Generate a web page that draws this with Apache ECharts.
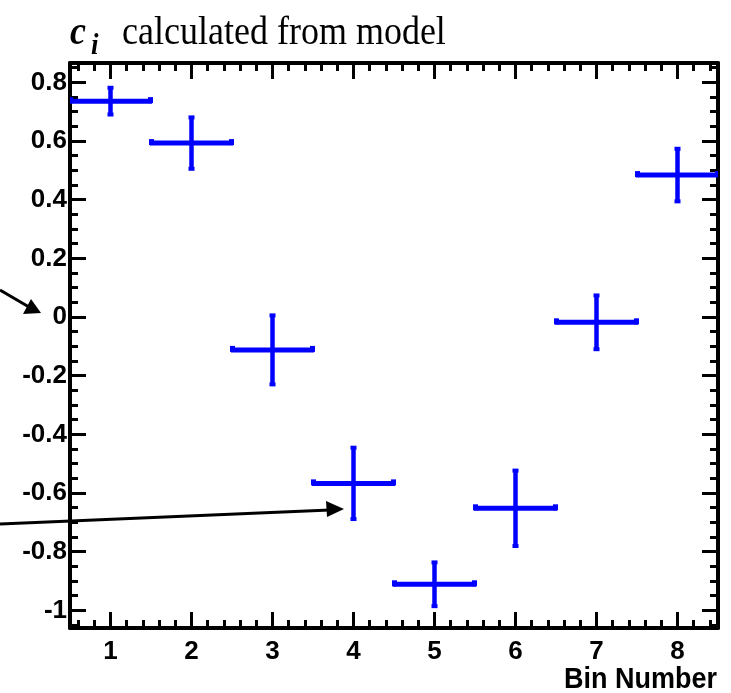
<!DOCTYPE html>
<html>
<head>
<meta charset="utf-8">
<script src="https://cdn.jsdelivr.net/npm/echarts@6/dist/echarts.min.js"></script>
<style>
html,body{margin:0;padding:0;background:#fff;}
#chart{width:731px;height:693px;}
</style>
</head>
<body>
<div id="chart"></div>
<script>
// ---- data ----
const bins = [1, 2, 3, 4, 5, 6, 7, 8];
const values = [0.736, 0.593, -0.112, -0.567, -0.911, -0.652, -0.018, 0.484];
const yErrors = [0.049, 0.091, 0.121, 0.125, 0.078, 0.132, 0.095, 0.093];
const xHalfWidths = [0.5, 0.5, 0.5, 0.5, 0.5, 0.5, 0.5, 0.5];
const xTickLabels = [1, 2, 3, 4, 5, 6, 7, 8];
const yTickLabels = [-1, -0.8, -0.6, -0.4, -0.2, 0, 0.2, 0.4, 0.6, 0.8];
const xRange = [0.5, 8.5];
const yRange = [-1.06, 0.866];

// minor tick positions
const xMinor = [];
for (let k = 3; k <= 42; k++) { const v = k / 5; if (v > xRange[0] && v < xRange[1] && k % 5 !== 0) xMinor.push(v); }
const yMinor = [];
for (let k = -21; k <= 17; k++) { const v = k / 20; if (v > yRange[0] && v < yRange[1] && k % 4 !== 0) yMinor.push(v); }

const chart = echarts.init(document.getElementById('chart'));
const BLUE = '#0000ff';
const labelFont = { fontFamily: 'Liberation Sans, Arial, sans-serif', fontWeight: 'bold', fontSize: 26, color: '#000' };

function xAxisDef(pos, major, showLine, labels) {
  return {
    type: 'value', position: pos, min: xRange[0], max: xRange[1],
    axisLine: { show: showLine, onZero: false, lineStyle: { color: '#000', width: 4 } },
    axisTick: { show: true, inside: true, length: major ? 16 : 8, customValues: major ? xTickLabels : xMinor, lineStyle: { color: '#000', width: 3 } },
    axisLabel: labels ? Object.assign({ show: true, margin: 11, customValues: xTickLabels, formatter: v => String(v) }, labelFont) : { show: false },
    splitLine: { show: false }
  };
}
function yAxisDef(pos, major, showLine, labels) {
  return {
    type: 'value', position: pos, min: yRange[0], max: yRange[1],
    axisLine: { show: showLine, onZero: false, lineStyle: { color: '#000', width: 4 } },
    axisTick: { show: true, inside: true, length: major ? 16 : 8, customValues: major ? yTickLabels : yMinor, lineStyle: { color: '#000', width: 3 } },
    axisLabel: labels ? Object.assign({ show: true, margin: 3, customValues: yTickLabels, formatter: v => String(Math.round(v * 10) / 10) }, labelFont) : { show: false },
    splitLine: { show: false }
  };
}

const errData = bins.map((b, i) => [b, values[i], xHalfWidths[i], yErrors[i]]);

const option = {
  animation: false,
  backgroundColor: '#fff',
  grid: { left: 70, top: 63, right: 13, bottom: 65, containLabel: false },
  xAxis: [
    xAxisDef('bottom', true, true, true),
    xAxisDef('bottom', false, false, false),
    xAxisDef('top', true, true, false),
    xAxisDef('top', false, false, false)
  ],
  yAxis: [
    yAxisDef('left', true, true, true),
    yAxisDef('left', false, false, false),
    yAxisDef('right', true, true, false),
    yAxisDef('right', false, false, false)
  ],
  series: [{
    type: 'custom',
    xAxisIndex: 0, yAxisIndex: 0,
    data: errData,
    clip: true,
    renderItem: function (params, api) {
      const x = api.value(0), y = api.value(1), hx = api.value(2), ey = api.value(3);
      const c = api.coord([x, y]);
      const l = api.coord([x - hx, y]);
      const r = api.coord([x + hx, y]);
      const t = api.coord([x, y + ey]);
      const b = api.coord([x, y - ey]);
      const st = { stroke: BLUE, lineWidth: 5, fill: null };
      return {
        type: 'group',
        children: [
          { type: 'line', shape: { x1: l[0] - 1, y1: c[1], x2: r[0] + 1, y2: c[1] }, style: st },
          { type: 'line', shape: { x1: c[0], y1: t[1], x2: c[0], y2: b[1] }, style: { stroke: BLUE, lineWidth: 4.5 } },
          { type: 'rect', shape: { x: c[0] - 3, y: t[1] - 1, width: 6, height: 4 }, style: { fill: BLUE } },
          { type: 'rect', shape: { x: c[0] - 3, y: b[1] - 3, width: 6, height: 4 }, style: { fill: BLUE } },
          { type: 'rect', shape: { x: l[0] - 2, y: c[1] - 4, width: 5, height: 6 }, style: { fill: BLUE } },
          { type: 'rect', shape: { x: r[0] - 3, y: c[1] - 4, width: 5, height: 6 }, style: { fill: BLUE } }
        ]
      };
    }
  }],
  graphic: [
    { type: 'text', x: 70, y: 13, scaleY: 1.12, style: { text: 'c', font: 'italic bold 36px "Liberation Serif", "Times New Roman", serif', fill: '#000' } },
    { type: 'text', x: 91, y: 31, scaleY: 1.12, style: { text: 'i', font: 'italic bold 27px "Liberation Serif", "Times New Roman", serif', fill: '#000' } },
    { type: 'text', x: 122, y: 13, scaleY: 1.12, style: { text: 'calculated from model', font: '36px "Liberation Serif", "Times New Roman", serif', fill: '#000' } },
    { type: 'text', x: 717, y: 665, scaleY: 1.1, style: { text: 'Bin Number', textAlign: 'right', font: 'bold 27px "Liberation Sans", Arial, sans-serif', fill: '#000' } },
    // annotation arrows
    { type: 'line', shape: { x1: 0, y1: 290, x2: 29, y2: 307 }, style: { stroke: '#000', lineWidth: 3 } },
    { type: 'polygon', shape: { points: [[41, 313], [23, 314], [31, 299]] }, style: { fill: '#000' } },
    { type: 'line', shape: { x1: 0, y1: 524, x2: 330, y2: 510 }, style: { stroke: '#000', lineWidth: 3 } },
    { type: 'polygon', shape: { points: [[344, 509], [326, 501], [327, 517]] }, style: { fill: '#000' } }
  ]
};
chart.setOption(option);
</script>
</body>
</html>
